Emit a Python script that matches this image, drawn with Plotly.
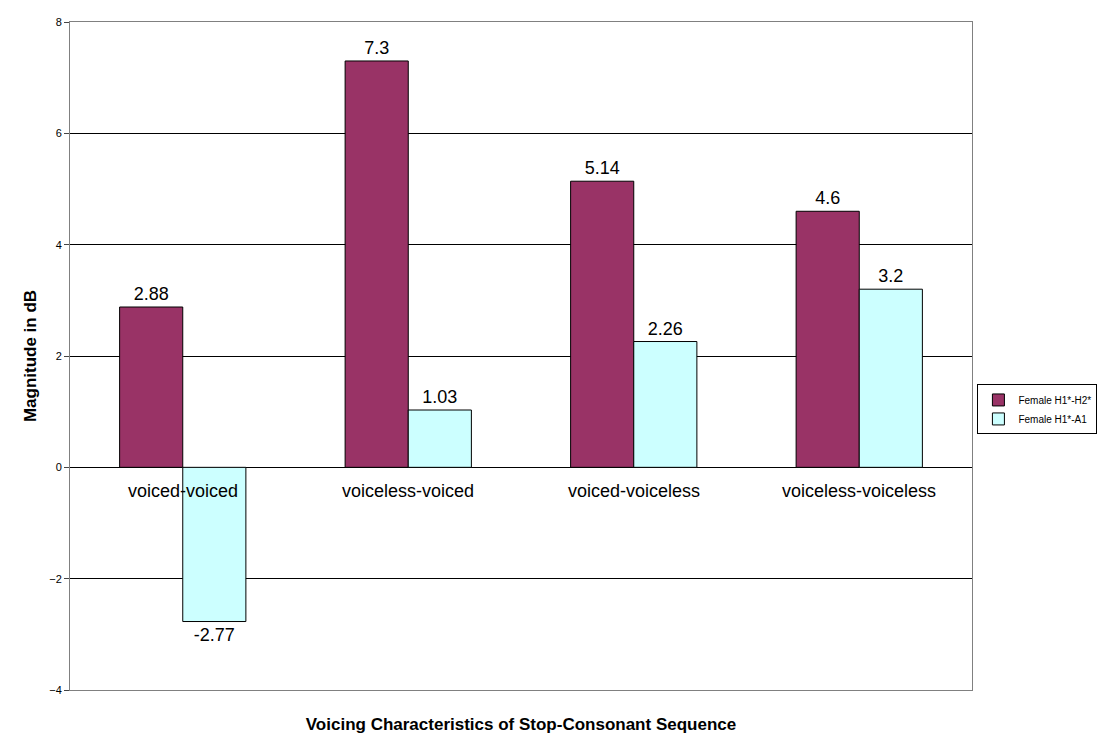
import plotly.graph_objects as go

categories = ["voiced-voiced", "voiceless-voiced", "voiced-voiceless", "voiceless-voiceless"]
h1_h2 = [2.88, 7.3, 5.14, 4.6]
h1_a1 = [-2.77, 1.03, 2.26, 3.2]
y_ticks = [-4, -2, 0, 2, 4, 6, 8]

font = "Liberation Sans, Arial, sans-serif"

fig = go.Figure()
fig.add_trace(go.Bar(
    x=categories, y=h1_h2, name="Female H1*-H2*",
    marker=dict(color="#993366", line=dict(color="black", width=1)),
    text=[str(v) for v in h1_h2], textposition="outside",
    textfont=dict(size=18, color="black"), cliponaxis=False,
))
fig.add_trace(go.Bar(
    x=categories, y=h1_a1, name="Female H1*-A1",
    marker=dict(color="#CCFFFF", line=dict(color="black", width=1)),
    text=[str(v) for v in h1_a1], textposition="outside",
    textfont=dict(size=18, color="black"), cliponaxis=False,
))

# category labels sit just below the zero line, Excel style
for c in categories:
    fig.add_annotation(x=c, y=0, yref="y", text=c, showarrow=False,
                       yanchor="top", yshift=-12, font=dict(size=18, color="black"))

fig.update_layout(
    width=1114, height=744,
    margin=dict(l=62, r=150, t=8, b=62),
    plot_bgcolor="white", paper_bgcolor="white",
    font=dict(family=font, color="black"),
    barmode="group", bargap=0.44, bargroupgap=0,
    legend=dict(x=1.006, y=0.42, yanchor="middle", xanchor="left",
                bordercolor="black", borderwidth=1, font=dict(size=10),
                tracegroupgap=0, itemwidth=30),
    xaxis=dict(showticklabels=False, ticks="", showgrid=False,
               showline=True, linecolor="#808080", mirror=True,
               title=dict(text="<b>Voicing Characteristics of Stop-Consonant Sequence</b>",
                          font=dict(size=17), standoff=28)),
    yaxis=dict(range=[-4, 8], tickvals=y_ticks, ticks="outside", ticklen=5,
               tickfont=dict(size=11), showgrid=True, gridcolor="black", gridwidth=1,
               zeroline=True, zerolinecolor="black", zerolinewidth=1,
               showline=True, linecolor="#808080", mirror=True,
               title=dict(text="<b>Magnitude in dB</b>", font=dict(size=17), standoff=8)),
)

fig.write_html("out.html")
